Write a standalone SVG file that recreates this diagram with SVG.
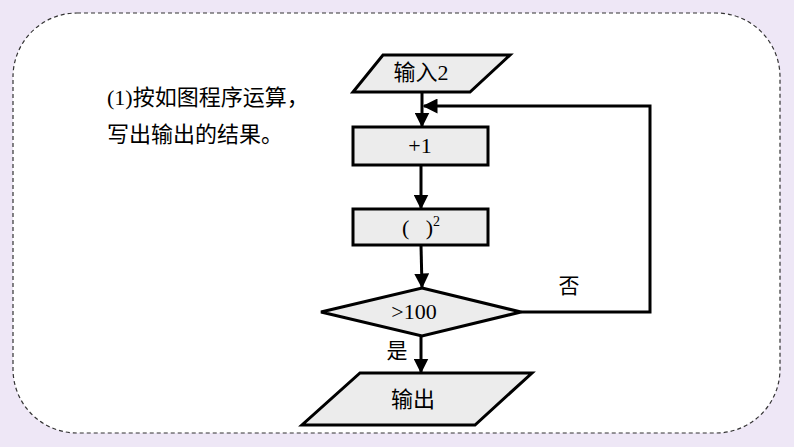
<svg xmlns="http://www.w3.org/2000/svg" width="794" height="447" viewBox="0 0 794 447">
<defs>
<style>
.box{fill:#ececec;stroke:#000;stroke-width:3;stroke-linejoin:miter}
.line{fill:none;stroke:#000;stroke-width:3}
.cjk{font-family:"Noto Sans CJK SC","Noto Sans",sans-serif;fill:#000}
.ser{font-family:"Liberation Serif","Noto Sans CJK SC",serif;fill:#000}
</style>
<marker id="arr" viewBox="0 0 10 10" refX="9" refY="5" markerWidth="5" markerHeight="5" orient="auto" markerUnits="strokeWidth">
<path d="M0,0 L10,5 L0,10 z" fill="#000"/>
</marker>
</defs>
<rect x="0" y="0" width="794" height="447" fill="#EEE7F6"/>
<rect x="13" y="13" width="767" height="420" rx="64" ry="64" fill="#fff" stroke="#333" stroke-width="1.2" stroke-dasharray="4,3"/>
<g id="question">
<text x="107" y="105" font-size="22"><tspan class="ser">(1)</tspan><tspan class="cjk">按如图程序运算，</tspan></text>
<text x="107" y="142" font-size="22" class="cjk">写出输出的结果。</text>
</g>
<g id="connectors">
<line class="line" x1="422" y1="92" x2="422" y2="126" marker-end="url(#arr)"/>
<line class="line" x1="421" y1="165" x2="421" y2="208" marker-end="url(#arr)"/>
<line class="line" x1="421" y1="245" x2="422" y2="287" marker-end="url(#arr)"/>
<polyline class="line" points="521,312 650,312 650,106 424,106" marker-end="url(#arr)"/>
<line class="line" x1="421" y1="336" x2="421" y2="372" marker-end="url(#arr)"/>
<text x="569" y="293" font-size="21" class="cjk" text-anchor="middle">否</text>
<text x="397" y="358" font-size="21" class="cjk" text-anchor="middle">是</text>
</g>
<g id="input">
<polygon class="box" points="383,55 510,55 470,92 353,92"/>
<text x="421" y="80" font-size="22" text-anchor="middle"><tspan class="cjk">输入</tspan><tspan class="ser">2</tspan></text>
</g>
<g id="plus1">
<rect class="box" x="353" y="127" width="135" height="38"/>
<text x="420" y="153" font-size="22" class="ser" text-anchor="middle">+1</text>
</g>
<g id="square">
<rect class="box" x="353" y="209" width="135" height="36"/>
<text x="421" y="235" font-size="22" class="ser" text-anchor="middle">(&#160;&#160;&#160;)<tspan font-size="14" dy="-9">2</tspan></text>
</g>
<g id="decision">
<polygon class="box" points="422,288 521,312 422,336 321,312"/>
<text x="414" y="319" font-size="22" class="ser" text-anchor="middle">&gt;100</text>
</g>
<g id="output">
<polygon class="box" points="360,373 532,373 475,425 302,425"/>
<text x="413" y="407" font-size="22" class="cjk" text-anchor="middle">输出</text>
</g>
</svg>
